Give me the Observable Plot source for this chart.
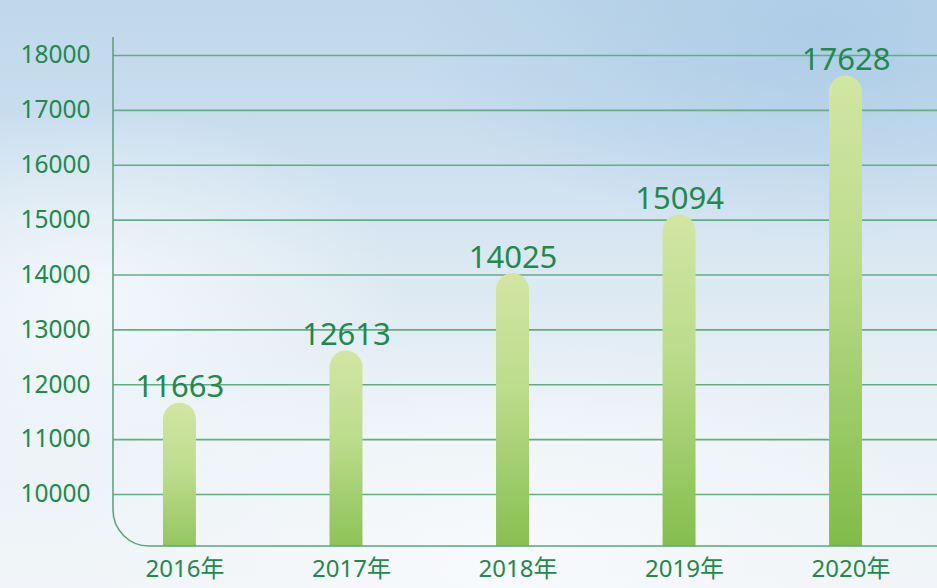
<!DOCTYPE html>
<html>
<head>
<meta charset="utf-8">
<script src="https://cdn.jsdelivr.net/npm/d3@7"></script>
<script src="https://cdn.jsdelivr.net/npm/@observablehq/plot@0.6"></script>
<style>
  html, body { margin: 0; padding: 0; }
  body {
    width: 937px; height: 588px; overflow: hidden;
    background:
      radial-gradient(ellipse 420px 260px at 90px 300px, rgba(246,250,252,0.85), rgba(246,250,252,0) 75%),
      radial-gradient(ellipse 600px 300px at 500px 560px, rgba(248,250,252,0.9), rgba(248,250,252,0) 75%),
      radial-gradient(ellipse 520px 260px at 820px 30px, rgba(170,202,229,0.85), rgba(170,202,229,0) 80%),
      linear-gradient(180deg, #c0d8eb 0%, #c8ddee 20%, #dbe8f2 45%, #e9f1f6 70%, #f1f5f8 100%);
  }
  #chart svg { display: block; }
</style>
</head>
<body>
<div id="chart"></div>
<script>
const years = ["2016年", "2017年", "2018年", "2019年", "2020年"];
const values = [11663, 12613, 14025, 15094, 17628];
const yTicks = [10000, 11000, 12000, 13000, 14000, 15000, 16000, 17000, 18000];

const data = years.map((year, i) => ({year, value: values[i]}));

const green = "#1e8a4c";
const gridColor = "#62ae82";

const W = 937, H = 588;
const mLeft = 113, mRight = 0, mTop = 37, mBottom = 42;

function gradientDefs() {
  const ns = "http://www.w3.org/2000/svg";
  const defs = document.createElementNS(ns, "defs");
  const lg = document.createElementNS(ns, "linearGradient");
  lg.setAttribute("id", "barGrad");
  lg.setAttribute("x1", "0"); lg.setAttribute("y1", "0");
  lg.setAttribute("x2", "0"); lg.setAttribute("y2", "1");
  [["0%", "#d2e6a2"], ["35%", "#bcdc8c"], ["100%", "#74b53a"]].forEach(([o, c]) => {
    const s = document.createElementNS(ns, "stop");
    s.setAttribute("offset", o);
    s.setAttribute("stop-color", c);
    lg.appendChild(s);
  });
  defs.appendChild(lg);
  return defs;
}

const chart = Plot.plot({
  width: W,
  height: H,
  marginLeft: mLeft,
  marginRight: mRight,
  marginTop: mTop,
  marginBottom: mBottom,
  style: {background: "transparent", fontFamily: "'Noto Sans', 'Noto Sans CJK SC', sans-serif", overflow: "visible"},
  x: {domain: years, paddingInner: 0.802, paddingOuter: 0.375, align: 0.4, round: false, label: null},
  y: {domain: [9052, 18328], label: null},
  marks: [
    gradientDefs,
    Plot.ruleY(yTicks, {stroke: gridColor, strokeWidth: 1.6}),
    Plot.barY(data, {x: "year", y1: 8000, y2: "value", fill: "url(#barGrad)", rx: 16.5, clip: true}),
    Plot.text(data, {x: "year", y: "value", text: d => String(d.value), lineAnchor: "bottom", dy: -6, fontSize: 31, fill: green}),
    Plot.axisY(yTicks, {tickSize: 0, tickPadding: 23, fontSize: 24.5, fill: green, label: null, tickFormat: d => String(d)}),
    Plot.axisX({tickSize: 0, tickPadding: 13, fontSize: 24, fill: green, dx: 5, label: null})
  ]
});

// rounded-corner axis line (left + bottom), placed with the plot's own scales
const ys = chart.scale("y");
const [yBottom, yTop] = ys.range;
const r = 36;
const ns = "http://www.w3.org/2000/svg";
const path = document.createElementNS(ns, "path");
path.setAttribute("d", `M${mLeft},${yTop} V${yBottom - r} A${r},${r} 0 0 0 ${mLeft + r},${yBottom} H${W - mRight}`);
path.setAttribute("fill", "none");
path.setAttribute("stroke", "#5aa87a");
path.setAttribute("stroke-width", "1.6");
chart.appendChild(path);

document.getElementById("chart").appendChild(chart);
</script>
</body>
</html>
